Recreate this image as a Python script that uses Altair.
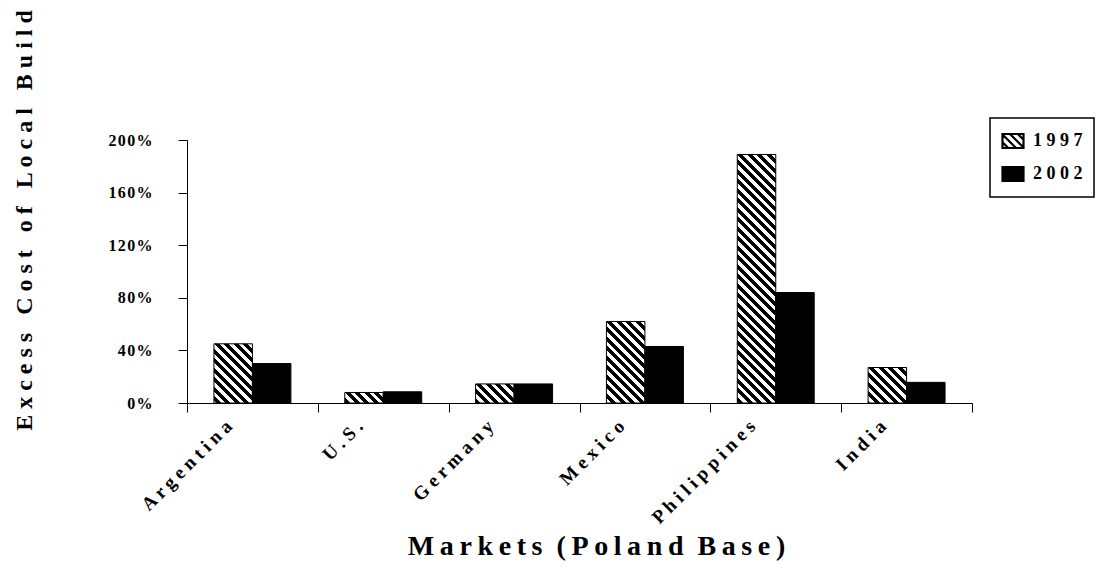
import math
import altair as alt
import pandas as pd

# ---- data ----
markets = ["Argentina", "U.S.", "Germany", "Mexico", "Philippines", "India"]
years = ["1997", "2002"]
cost_1997 = [0.45, 0.08, 0.145, 0.62, 1.89, 0.27]
cost_2002 = [0.30, 0.085, 0.145, 0.43, 0.84, 0.157]
y_ticks = [0.0, 0.4, 0.8, 1.2, 1.6, 2.0]

rows = []
for i, m in enumerate(markets):
    rows.append({"Market": m, "Year": years[0], "Cost": cost_1997[i]})
    rows.append({"Market": m, "Year": years[1], "Cost": cost_2002[i]})
df = pd.DataFrame(rows)

# ---- layout / style ----
PLOT_W, PLOT_H = 785, 263
Y_MAX = 2.0
OUTER = 0.7
band = PLOT_W / len(markets)
bar_w = band / (len(years) + 2 * OUTER)
FONT = "Liberation Serif"


def spaced(text, sep=" ", wsep="\u2002 "):
    return wsep.join(sep.join(w) for w in text.split(" "))


def hatch(W, H, p=9.5, f=0.52):
    """diagonal '\\' stripes as a hard-stop linear gradient in bbox units"""
    H = max(H, 1.0)
    L = W + H
    r = H / W
    s = (1 + r) / (1 + r * r)
    stops = []
    k0 = math.floor(-H / p) - 1
    k1 = math.ceil(W / p) + 1
    for k in range(k0, k1):
        for a, b, col in ((k * p, k * p + f * p, "black"),
                          (k * p + f * p, (k + 1) * p, "white")):
            a2, b2 = max(a, -H), min(b, W)
            if a2 < b2:
                stops.append({"offset": round((a2 + H) / L, 5), "color": col})
                stops.append({"offset": round((b2 + H) / L, 5), "color": col})
    return {"gradient": "linear", "x1": 0, "y1": 1,
            "x2": round(s, 5), "y2": round(1 - s * r, 5), "stops": stops}


conds = []
for m, v in zip(markets, cost_1997):
    h = v / Y_MAX * PLOT_H
    conds.append({"test": f"datum.Market === '{m}' && datum.Year === '{years[0]}'",
                  "value": hatch(bar_w, h)})

# legend symbol: rectangle with diagonal hatch lines (unit box -1..1)
hh = 0.667
sym = f"M-1,{-hh}H1V{hh}H-1Z"
for c in (-1.125, -0.375, 0.375, 1.125):
    y0 = max(-1 - c, -hh)
    y1 = min(1 - c, hh)
    if y1 > y0:
        sym += f"M{round(y0 + c, 3)},{round(y0, 3)}L{round(y1 + c, 3)},{round(y1, 3)}"

chart = alt.Chart(df).mark_bar(stroke="black").encode(
    x=alt.X(
        "Market:N", sort=markets,
        scale=alt.Scale(paddingInner=0, paddingOuter=0),
        axis=alt.Axis(
            title=spaced("Markets (Poland Base)", "\u2009", "\u2002"),
            titleFont=FONT, titleFontSize=28, titleFontWeight="bold", titleColor="black",
            titleX=409, titleY=151, titleBaseline="alphabetic", titleAlign="center",
            labelAngle=-45, labelAlign="right", labelBaseline="middle",
            labelFont=FONT, labelFontSize=19, labelFontWeight="bold", labelColor="black",
            labelExpr="join(split(datum.label, ''), ' ')",
            labelPadding=11, labelOffset=-24,
            tickBand="extent", tickSize=9, tickColor="black", domainColor="black",
            grid=False,
        ),
    ),
    xOffset=alt.XOffset("Year:N", scale=alt.Scale(paddingInner=0, paddingOuter=OUTER)),
    y=alt.Y(
        "Cost:Q",
        scale=alt.Scale(domain=[0, Y_MAX], nice=False),
        axis=alt.Axis(
            values=y_ticks, format=".0%",
            labelExpr="join(split(datum.label, ''), '\u200a')",
            labelFont=FONT, labelFontSize=16, labelFontWeight="bold", labelColor="black",
            labelPadding=26, tickSize=9, tickColor="black", domainColor="black",
            grid=False,
            title=spaced("Excess Cost of Local Build"),
            titleFont=FONT, titleFontSize=24, titleFontWeight="bold", titleColor="black",
            titleX=-156, titleY=80, titleAlign="center", titleBaseline="alphabetic",
            titleAngle=270,
        ),
    ),
    fill=alt.Fill(
        "Year:N",
        scale=alt.Scale(domain=years, range=["white", "black"]),
        condition=conds,
        legend=alt.Legend(
            title=None, orient="none", legendX=803, legendY=-22,
            strokeColor="black", fillColor="white", padding=11,
            rowPadding=9, labelOffset=8,
            symbolType=sym, symbolSize=441, symbolStrokeWidth=2.2,
            labelFont=FONT, labelFontSize=18, labelFontWeight="bold", labelColor="black",
            labelExpr="join(split(datum.label, ''), ' ')",
        ),
    ),
).properties(
    width=PLOT_W, height=PLOT_H,
    autosize=alt.AutoSizeParams(type="none"),
    padding={"left": 187, "top": 140, "right": 129, "bottom": 172},
).configure_view(strokeWidth=0).configure_legend(strokeWidth=1.5, cornerRadius=0)

chart.save("out.html", embed_options={"renderer": "svg", "actions": False})
